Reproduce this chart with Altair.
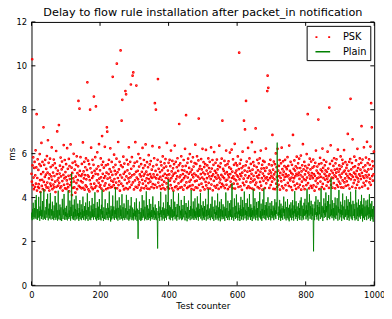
import altair as alt
import pandas as pd

title_text = "Delay to flow rule installation after packet_in notification"
x_label = "Test counter"
y_label = "ms"
series_names = ["PSK", "Plain"]
series_colors = ["#ff0000", "#008000"]
legend_dashes = [[2, 11], [1, 0]]
x_ticks = [0, 200, 400, 600, 800, 1000]
y_ticks = [0, 2, 4, 6, 8, 10, 12]

# PSK delay per test, in hundredths of ms
psk_centi = [
    508, 472, 1030, 546, 457, 583, 491, 438, 535, 562, 449, 501, 615, 463, 537, 780, 432, 489, 574, 448,
    526, 461, 443, 552, 598, 479, 425, 544, 507, 649, 453, 481, 562, 438, 516, 720, 471, 549, 433, 494,
    572, 457, 504, 531, 446, 589, 468, 513, 661, 445, 558, 487, 432, 505, 577, 463, 539, 452, 496, 628,
    481, 438, 547, 514, 459, 573, 446, 498, 556, 472, 425, 534, 612, 449, 507, 701, 478, 523, 454, 489,
    730, 467, 509, 545, 443, 582, 496, 451, 528, 564, 475, 432, 539, 503, 639, 458, 487, 571, 442, 516,
    493, 552, 439, 478, 625, 462, 531, 447, 499, 576, 428, 543, 484, 457, 642, 501, 469, 536, 411, 512,
    558, 444, 487, 599, 473, 446, 527, 564, 422, 495, 549, 466, 588, 438, 511, 479, 542, 840, 453, 501,
    805, 521, 447, 584, 475, 498, 442, 553, 506, 469, 651, 444, 519, 487, 563, 436, 502, 538, 455, 578,
    483, 449, 526, 925, 501, 568, 437, 495, 552, 428, 479, 800, 533, 461, 627, 446, 514, 489, 572, 438,
    497, 549, 860, 463, 521, 445, 584, 508, 815, 452, 531, 478, 606, 429, 505, 542, 467, 643, 486, 449,
    524, 457, 578, 492, 441, 549, 680, 475, 508, 563, 432, 536, 489, 454, 631, 498, 465, 547, 438, 513,
    720, 700, 486, 551, 443, 507, 572, 458, 529, 491, 624, 446, 518, 477, 562, 449, 503, 950, 472, 538,
    456, 595, 484, 521, 443, 549, 506, 468, 577, 1010, 442, 515, 489, 653, 457, 528, 474, 563, 431, 502,
    1070, 546, 463, 750, 491, 845, 539, 452, 586, 508, 437, 555, 481, 517, 885, 443, 870, 496, 572, 465,
    524, 438, 551, 487, 629, 473, 509, 446, 563, 492, 915, 531, 458, 584, 501, 955, 469, 970, 543, 437,
    506, 558, 478, 652, 449, 517, 910, 491, 564, 445, 522, 483, 598, 457, 541, 469, 505, 579, 433, 496,
    552, 444, 517, 481, 626, 463, 534, 499, 571, 442, 508, 546, 475, 642, 453, 518, 487, 561, 441, 503,
    538, 466, 593, 484, 439, 551, 507, 472, 566, 495, 448, 527, 489, 634, 461, 542, 506, 443, 579, 494,
    830, 458, 521, 800, 487, 549, 446, 503, 572, 940, 468, 531, 485, 628, 452, 516, 494, 563, 439, 547,
    481, 524, 458, 587, 499, 443, 535, 472, 556, 508, 437, 575, 489, 541, 464, 649, 502, 447, 523, 486,
    558, 441, 505, 572, 477, 543, 456, 614, 488, 519, 442, 567, 499, 533, 431, 508, 552, 473, 637, 447,
    512, 563, 484, 451, 538, 496, 579, 438, 521, 464, 547, 735, 492, 445, 556, 501, 473, 588, 447, 525,
    479, 542, 507, 436, 571, 488, 523, 455, 622, 497, 544, 775, 469, 516, 443, 558, 491, 577, 449, 508,
    535, 472, 598, 453, 516, 481, 564, 438, 527, 503, 456, 583, 492, 541, 435, 509, 557, 474, 641, 446,
    501, 553, 477, 588, 444, 522, 495, 569, 760, 458, 531, 486, 543, 432, 507, 575, 463, 528, 491, 622,
    448, 514, 561, 483, 539, 437, 506, 552, 471, 617, 455, 523, 488, 546, 442, 509, 578, 467, 534, 496,
    563, 441, 517, 484, 628, 459, 532, 498, 571, 433, 505, 549, 476, 607, 452, 521, 493, 558, 445, 512,
    486, 573, 457, 528, 501, 544, 439, 491, 636, 468, 539, 482, 556, 447, 503, 577, 462, 750, 495, 531,
    454, 522, 488, 567, 443, 509, 546, 477, 614, 458, 516, 481, 552, 438, 504, 565, 492, 537, 449, 605,
    507, 473, 531, 456, 618, 489, 518, 442, 574, 496, 463, 549, 484, 645, 441, 512, 557, 478, 523, 501,
    546, 462, 587, 495, 448, 529, 1060, 483, 554, 507, 451, 572, 498, 534, 435, 513, 609, 467, 542, 486,
    750, 456, 523, 710, 501, 547, 840, 472, 564, 443, 518, 489, 626, 451, 535, 497, 578, 444, 522, 469,
    553, 486, 508, 652, 441, 527, 474, 561, 499, 436, 545, 482, 607, 458, 715, 513, 468, 539, 496, 572,
    447, 524, 489, 556, 503, 442, 578, 471, 517, 614, 454, 532, 488, 549, 436, 509, 567, 476, 533, 498,
    562, 443, 521, 487, 623, 465, 536, 492, 885, 955, 479, 900, 508, 551, 444, 523, 488, 572, 457, 514,
    499, 546, 472, 685, 491, 527, 439, 564, 505, 483, 552, 438, 516, 601, 463, 538, 494, 448, 622, 477,
    523, 458, 544, 497, 571, 436, 512, 489, 556, 474, 627, 451, 529, 503, 565, 442, 518, 481, 543, 494,
    572, 456, 507, 538, 433, 529, 496, 584, 467, 544, 501, 453, 637, 486, 522, 478, 563, 447, 512, 491,
    549, 434, 506, 685, 472, 531, 488, 569, 455, 523, 497, 542, 439, 508, 586, 463, 534, 501, 556, 446,
    513, 577, 485, 458, 534, 502, 591, 436, 519, 472, 547, 494, 643, 451, 528, 483, 562, 438, 505, 543,
    479, 522, 457, 598, 491, 534, 780, 466, 513, 549, 442, 501, 577, 486, 528, 453, 564, 497, 511, 444,
    536, 488, 573, 455, 507, 542, 431, 499, 558, 476, 614, 449, 523, 487, 541, 464, 512, 755, 491, 552,
    438, 506, 581, 473, 527, 494, 556, 447, 519, 623, 462, 535, 488, 571, 439, 508, 547, 481, 524, 499,
    563, 454, 517, 486, 609, 471, 532, 498, 444, 810, 506, 553, 477, 638, 458, 523, 491, 567, 445, 512,
    488, 544, 466, 579, 501, 527, 442, 556, 495, 513, 574, 457, 531, 484, 618, 449, 518, 473, 546, 502,
    529, 463, 587, 492, 446, 541, 509, 572, 478, 554, 445, 517, 616, 469, 523, 487, 561, 453, 508, 535,
    474, 549, 497, 690, 456, 522, 488, 563, 441, 507, 575, 850, 483, 528, 501, 557, 449, 665, 494, 538,
    466, 513, 586, 479, 542, 507, 443, 569, 495, 521, 458, 622, 487, 534, 472, 551, 506, 443, 578, 499,
    527, 484, 558, 725, 512, 449, 573, 496, 538, 467, 629, 489, 523, 455, 546, 501, 582, 475, 517, 654,
    492, 557, 441, 528, 503, 574, 469, 549, 486, 632, 458, 830, 531, 720, 498, 565, 477, 543, 506, 609,
]

# Plain delay per test, in hundredths of ms
plain_centi = [
    305, 331, 297, 348, 312, 376, 324, 301, 318, 352, 309, 389, 326, 303, 411, 334, 315, 298, 347, 306,
    322, 403, 311, 338, 294, 359, 317, 426, 329, 302, 344, 313, 384, 321, 299, 366, 438, 327, 304, 341,
    316, 298, 357, 323, 392, 308, 335, 417, 314, 296, 349, 319, 372, 305, 327, 421, 311, 300, 346, 318,
    328, 381, 302, 339, 314, 297, 364, 325, 308, 407, 331, 299, 318, 376, 309, 342, 295, 323, 431, 313,
    301, 344, 319, 368, 297, 326, 355, 310, 293, 337, 394, 316, 302, 345, 321, 416, 307, 298, 353, 315,
    334, 300, 362, 311, 327, 296, 349, 433, 318, 303, 341, 312, 386, 324, 295, 357, 316, 510, 331, 304,
    319, 367, 298, 335, 310, 391, 322, 296, 348, 314, 408, 326, 301, 343, 317, 372, 305, 329, 294, 352,
    312, 388, 301, 333, 322, 369, 297, 318, 346, 308, 404, 327, 299, 339, 315, 361, 324, 296, 377, 317,
    303, 342, 321, 419, 309, 294, 356, 314, 330, 383, 300, 337, 318, 297, 364, 325, 308, 398, 313, 346,
    328, 299, 371, 311, 340, 424, 316, 301, 352, 317, 295, 334, 379, 306, 326, 298, 358, 312, 393, 329,
    300, 347, 318, 296, 367, 323, 436, 307, 339, 314, 293, 355, 327, 302, 336, 392, 311, 299, 351, 320,
    334, 306, 374, 318, 297, 353, 325, 427, 309, 341, 315, 291, 362, 328, 300, 346, 317, 409, 305, 331,
    359, 312, 298, 342, 324, 446, 308, 350, 301, 332, 386, 319, 295, 353, 327, 309, 401, 336, 299, 364,
    317, 345, 303, 329, 415, 314, 296, 356, 322, 306, 373, 334, 298, 320, 351, 308, 331, 412, 313, 300,
    338, 323, 389, 309, 295, 348, 318, 301, 363, 329, 310, 402, 335, 297, 321, 354, 305, 330, 296, 346,
    315, 378, 327, 300, 340, 311, 396, 323, 294, 349, 317, 212, 306, 343, 325, 381, 299, 334, 313, 293,
    352, 320, 298, 411, 329, 307, 345, 314, 387, 326, 296, 358, 318, 303, 339, 428, 322, 297, 365, 310,
    328, 299, 349, 319, 393, 306, 336, 295, 371, 324, 312, 343, 301, 327, 405, 309, 355, 317, 298, 340,
    321, 368, 305, 331, 297, 352, 316, 302, 168, 338, 319, 384, 306, 329, 294, 359, 323, 426, 311, 342,
    314, 296, 355, 326, 304, 377, 320, 343, 293, 350, 329, 308, 413, 321, 299, 347, 315, 379, 325, 483,
    318, 341, 302, 364, 325, 297, 356, 313, 392, 330, 307, 346, 296, 324, 428, 311, 338, 316, 381, 301,
    332, 357, 309, 321, 295, 370, 326, 311, 344, 419, 317, 300, 362, 328, 305, 340, 319, 389, 297, 348,
    316, 301, 366, 327, 310, 352, 407, 318, 296, 339, 324, 375, 308, 331, 292, 357, 320, 303, 386, 328,
    309, 343, 325, 297, 361, 316, 434, 333, 301, 349, 318, 307, 382, 329, 298, 345, 314, 396, 306, 337,
    323, 299, 354, 319, 405, 310, 342, 295, 372, 327, 312, 348, 317, 421, 304, 331, 364, 315, 296, 353,
    318, 383, 306, 336, 298, 361, 324, 313, 394, 330, 295, 344, 316, 368, 327, 301, 439, 320, 341, 308,
    350, 317, 297, 371, 329, 310, 340, 404, 302, 325, 358, 315, 294, 346, 326, 387, 309, 333, 299, 363,
    320, 342, 305, 418, 328, 296, 355, 317, 309, 381, 324, 292, 347, 314, 393, 330, 301, 341, 312, 369,
    327, 303, 358, 321, 294, 349, 315, 423, 331, 307, 352, 318, 298, 385, 325, 310, 339, 297, 374, 319,
    345, 312, 388, 328, 299, 465, 322, 309, 356, 316, 294, 341, 396, 313, 330, 302, 362, 326, 414, 308,
    336, 319, 296, 377, 324, 353, 307, 340, 293, 365, 317, 403, 328, 300, 347, 314, 389, 331, 297, 355,
    318, 427, 330, 305, 344, 321, 375, 296, 338, 315, 395, 324, 299, 357, 332, 310, 416, 317, 349, 298,
    369, 326, 311, 353, 293, 342, 319, 438, 329, 304, 361, 314, 397, 333, 297, 345, 322, 380, 308, 352,
    316, 295, 384, 330, 312, 357, 425, 307, 339, 301, 372, 325, 294, 348, 318, 391, 306, 334, 442, 320,
    343, 303, 366, 326, 297, 379, 318, 350, 309, 335, 401, 315, 299, 361, 329, 311, 376, 340, 296, 347,
    321, 384, 306, 337, 314, 363, 328, 297, 354, 319, 392, 310, 341, 302, 378, 325, 358, 650, 416, 318,
    333, 298, 359, 320, 389, 309, 345, 294, 372, 327, 308, 351, 323, 299, 362, 331, 404, 315, 348, 304,
    329, 381, 312, 296, 356, 334, 307, 393, 321, 300, 353, 326, 292, 367, 318, 345, 309, 378, 332, 297,
    350, 322, 388, 307, 339, 295, 364, 328, 429, 314, 347, 302, 383, 330, 311, 359, 294, 337, 320, 374,
    325, 305, 352, 298, 386, 331, 316, 401, 344, 296, 363, 323, 309, 348, 300, 376, 334, 317, 394, 322,
    341, 301, 364, 327, 440, 310, 343, 295, 377, 332, 318, 415, 350, 303, 361, 324, 385, 336, 299, 353,
    317, 369, 306, 155, 328, 350, 297, 381, 321, 345, 406, 312, 334, 300, 366, 319, 390, 331, 295, 357,
    324, 379, 338, 302, 347, 442, 326, 310, 362, 318, 293, 355, 329, 396, 307, 343, 321, 373, 312, 423,
    333, 361, 316, 297, 384, 336, 308, 411, 349, 322, 301, 369, 327, 314, 490, 320, 346, 306, 387, 330,
    315, 352, 296, 375, 334, 309, 400, 328, 302, 364, 319, 341, 397, 313, 295, 358, 332, 434, 321, 300,
    348, 324, 381, 310, 343, 293, 367, 320, 418, 316, 305, 359, 330, 299, 388, 326, 311, 346, 319, 405,
    335, 298, 362, 321, 392, 309, 344, 295, 379, 331, 314, 426, 356, 304, 368, 323, 297, 340, 385, 316,
    327, 371, 307, 348, 296, 360, 435, 322, 301, 377, 333, 315, 354, 293, 391, 329, 310, 366, 318, 345,
    302, 383, 326, 412, 317, 351, 291, 368, 332, 306, 397, 321, 298, 359, 330, 314, 386, 339, 297, 364,
    319, 390, 334, 303, 355, 325, 415, 309, 342, 294, 372, 328, 313, 384, 301, 348, 323, 290, 361, 311,
]

n_psk = len(psk_centi)
n_plain = len(plain_centi)
df = pd.DataFrame({
    "x": list(range(n_psk)) + list(range(n_plain)),
    "y": [v / 100 for v in psk_centi] + [v / 100 for v in plain_centi],
    "series": ["PSK"] * n_psk + ["Plain"] * n_plain,
})
xt_df = pd.DataFrame({"x": x_ticks})
yt_df = pd.DataFrame({"y": y_ticks})

W, H = 350, 269
FONT = "DejaVu Sans"
TICK = 4

xs = alt.Scale(domain=[x_ticks[0], x_ticks[-1]], nice=False, zero=False)
ys = alt.Scale(domain=[y_ticks[0], y_ticks[-1]], nice=False)

x_axis = alt.Axis(values=x_ticks, format="d", title=x_label, grid=False, domain=False,
                  tickSize=0, labelFont=FONT, labelFontSize=8.5, labelColor="black",
                  labelPadding=5, labelFlush=False, titleFont=FONT, titleFontSize=9,
                  titleFontWeight="normal", titleColor="black", titlePadding=3)
y_axis = alt.Axis(values=y_ticks, format="d", title=y_label, grid=False, domain=False,
                  tickSize=0, labelFont=FONT, labelFontSize=8.5, labelColor="black",
                  labelPadding=5, labelFlush=False, titleFont=FONT, titleFontSize=9,
                  titleFontWeight="normal", titleColor="black", titlePadding=0)

legend = alt.Legend(
    title=None, orient="top-right", offset=4, fillColor="white", strokeColor="black",
    cornerRadius=0, padding=3, labelFont=FONT, labelFontSize=10,
    labelColor="black", symbolSize=225, symbolType="stroke", symbolStrokeWidth=1.6,
    symbolOpacity=1, symbolOffset=5, labelOffset=12, rowPadding=1,
)
color = alt.Color("series:N", scale=alt.Scale(domain=series_names, range=series_colors),
                  legend=legend)
dash = alt.StrokeDash("series:N", scale=alt.Scale(domain=series_names, range=legend_dashes),
                      legend=legend)

base = alt.Chart(df)
pts = base.transform_filter(alt.datum.series == "PSK").mark_point(
    filled=False, shape="circle", size=1.2, strokeWidth=1.7, opacity=1).encode(
    x=alt.X("x:Q", scale=xs, axis=x_axis),
    y=alt.Y("y:Q", scale=ys, axis=y_axis),
    color=color,
)
line = base.transform_filter(alt.datum.series == "Plain").mark_line(strokeWidth=1).encode(
    x=alt.X("x:Q", scale=xs, axis=x_axis),
    y=alt.Y("y:Q", scale=ys, axis=y_axis),
    color=color,
    strokeDash=dash,
)
bot = alt.Chart(xt_df).mark_rule(color="black", strokeWidth=1).encode(
    x=alt.X("x:Q", scale=xs, axis=x_axis), y=alt.value(H), y2=alt.value(H - TICK))
top = alt.Chart(xt_df).mark_rule(color="black", strokeWidth=1).encode(
    x=alt.X("x:Q", scale=xs, axis=x_axis), y=alt.value(0), y2=alt.value(TICK))
lft = alt.Chart(yt_df).mark_rule(color="black", strokeWidth=1).encode(
    y=alt.Y("y:Q", scale=ys, axis=y_axis), x=alt.value(0), x2=alt.value(TICK))
rgt = alt.Chart(yt_df).mark_rule(color="black", strokeWidth=1).encode(
    y=alt.Y("y:Q", scale=ys, axis=y_axis), x=alt.value(W), x2=alt.value(W - TICK))

chart = alt.layer(pts, line, bot, top, lft, rgt).properties(
    width=W, height=H,
    autosize=alt.AutoSizeParams(type="none"),
    padding={"left": 24, "top": 11, "right": 10, "bottom": 24},
    title=alt.Title(text=title_text, font=FONT, fontSize=11.5, fontWeight="normal",
                    color="black", anchor="middle", offset=0, dy=9, baseline="alphabetic",
                    frame="group"),
    background="white",
).configure_view(stroke="black", strokeWidth=1)

chart.save("out.html", embed_options={"renderer": "svg", "actions": False})
